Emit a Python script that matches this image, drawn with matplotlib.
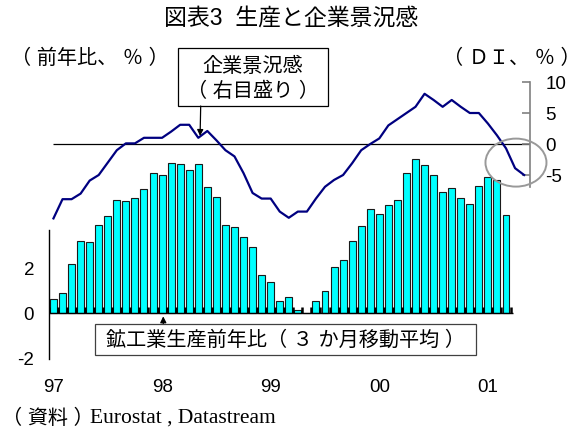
import numpy as np
import matplotlib.pyplot as plt
from matplotlib.patches import Ellipse

plt.rcParams['font.family'] = ['Liberation Sans', 'Noto Sans CJK JP']

# 鉱工業生産前年比（3か月移動平均, %）, 1997/1 - 2001/3
prod = [0.62, 0.91, 2.17, 3.20, 3.15, 3.88, 4.30, 5.02, 4.96, 5.08, 5.48, 6.17,
        6.09, 6.63, 6.60, 6.31, 6.58, 5.58, 5.12, 3.90, 3.83, 3.37, 2.93, 1.69,
        1.38, 0.57, 0.73, 0.15, 0.00, 0.56, 0.98, 2.05, 2.35, 3.20, 3.85, 4.60,
        4.40, 4.77, 4.99, 6.21, 6.81, 6.55, 6.12, 5.37, 5.53, 5.11, 4.81, 5.62,
        6.02, 5.86, 4.34]
# 企業景況感 DI（%）, 1997/1 - 2001/5
di = [-12.0, -8.9, -8.9, -8.0, -5.9, -5.0, -3.0, -1.0, 0.1, 0.1, 1.0, 1.0,
      1.0, 2.0, 3.1, 3.1, 1.0, 2.1, 0.6, -1.0, -2.0, -4.7, -7.9, -8.8,
      -8.8, -10.9, -11.9, -10.9, -10.9, -8.8, -6.9, -5.8, -5.0, -3.1, -1.0, 0.0,
      0.9, 3.0, 4.0, 5.0, 6.0, 8.1, 7.1, 6.0, 7.1, 6.0, 5.0, 5.0,
      3.3, 1.4, -0.7, -3.9, -5.0]
year_labels = ['97', '98', '99', '00', '01']

W, H = 582, 434
fig = plt.figure(figsize=(W / 100, H / 100), dpi=100)


def fx(px):
    return px / W


def fy(py):
    return 1 - py / H


left, right, top, bottom = 49.3, 530, 75, 362
ax = fig.add_axes([fx(left), fy(bottom), (right - left) / W, (bottom - top) / H])
ax2 = ax.twinx()

xmin, xmax = -0.46, 52.65
ax.set_xlim(xmin, xmax)
ax.set_ylim(-2.137, 10.507)
ax2.set_ylim(-35.16, 11.13)

# bars (left scale)
x_prod = np.arange(len(prod))
ax.bar(x_prod, prod, width=0.77, color='#00FFFF', edgecolor='#1a1a1a',
       linewidth=0.8, zorder=2)
ax.hlines(0, xmin, len(prod) - 0.2, color='black', lw=1, zorder=3)
ax.vlines(np.arange(len(prod) + 1) - 0.5, 0, 0.27, color='black', lw=1.8, zorder=3)

# DI line (right scale)
x_di = np.arange(len(di))
ax2.hlines(0, 0, xmax, color='black', lw=0.9, zorder=1)
ax2.plot(x_di, di, color='#000080', lw=1.6, zorder=3)

# spines and ticks
for s in ['top', 'bottom']:
    ax.spines[s].set_visible(False)
    ax2.spines[s].set_visible(False)
ax.spines['right'].set_visible(False)
ax2.spines['left'].set_visible(False)
ax.spines['left'].set_bounds(-2, 3.7)
ax.spines['left'].set_linewidth(1)
ax2.spines['right'].set_bounds(-6.9, 10)
ax2.spines['right'].set_color('#808080')
ax2.spines['right'].set_linewidth(1.2)

ax.set_yticks([-2, 0, 2])
ax.set_yticklabels(['-2', '0', '2'])
ax.tick_params(axis='y', length=0, pad=11, labelsize=13.5)
ax2.set_yticks([-5, 0, 5, 10])
ax2.set_yticklabels(['-5', '0', '5', '10'])
ax2.tick_params(axis='y', direction='in', length=5.5, width=1.2, color='#808080',
                pad=11, labelsize=13.5)

ax.set_xticks(np.arange(0, 49, 12))
ax.set_xticklabels(year_labels)
ax.tick_params(axis='x', length=0, pad=12, labelsize=13.5)

# axis units
fig.text(fx(11), fy(58), '（ 前年比、 ％ ）', fontsize=14.5, va='center', ha='left')
fig.text(fx(581), fy(58), '（ ＤＩ、 ％ ）', fontsize=14.5, va='center', ha='right')

# title
fig.text(0.5, fy(18), '図表3  生産と企業景況感', fontsize=16.5, ha='center', va='center')

# DI label box with arrow
fig.patches.append(plt.Rectangle((fx(178), fy(106)), fx(150), 58 / H,
                                 transform=fig.transFigure, fill=False,
                                 edgecolor='black', lw=0.9))
fig.text(fx(253), fy(66), '企業景況感', fontsize=14.5, ha='center', va='center')
fig.text(fx(253), fy(91), '（ 右目盛り ）', fontsize=14.5, ha='center', va='center')
ax2.annotate('', xy=(16.2, 1.3), xytext=(200.7, H - 106),
             textcoords='figure pixels', annotation_clip=False,
             arrowprops=dict(arrowstyle='-|>', color='black', lw=0.9,
                             mutation_scale=9, shrinkA=0, shrinkB=0))

# production label box with arrow
fig.patches.append(plt.Rectangle((fx(95), fy(355)), fx(381), 31 / H,
                                 transform=fig.transFigure, fill=True,
                                 facecolor='white', edgecolor='#404040', lw=0.9,
                                 zorder=5))
fig.text(fx(285), fy(340), '鉱工業生産前年比（ ３ か月移動平均 ）', fontsize=14.5,
         ha='center', va='center', zorder=6)
ax2.annotate('', xy=(12.13, -27.8), xytext=(163.3, H - 324),
             textcoords='figure pixels', annotation_clip=False,
             arrowprops=dict(arrowstyle='-|>', color='black', lw=0.9,
                             mutation_scale=9, shrinkA=0, shrinkB=0))

# circle around latest readings
ax2.add_patch(Ellipse((51.1, -3.0), 61 / 9.05, 48 / 6.2, fill=False,
                      edgecolor='#999999', lw=1.4, clip_on=False, zorder=4))

# source
fig.text(fx(2), fy(418), '（ 資料 ）', fontsize=14.5, ha='left', va='center')
fig.text(fx(90), fy(418), 'Eurostat , Datastream', fontsize=15.5,
         family='Liberation Serif', ha='left', va='center')

fig.savefig('out.png', dpi=100)
